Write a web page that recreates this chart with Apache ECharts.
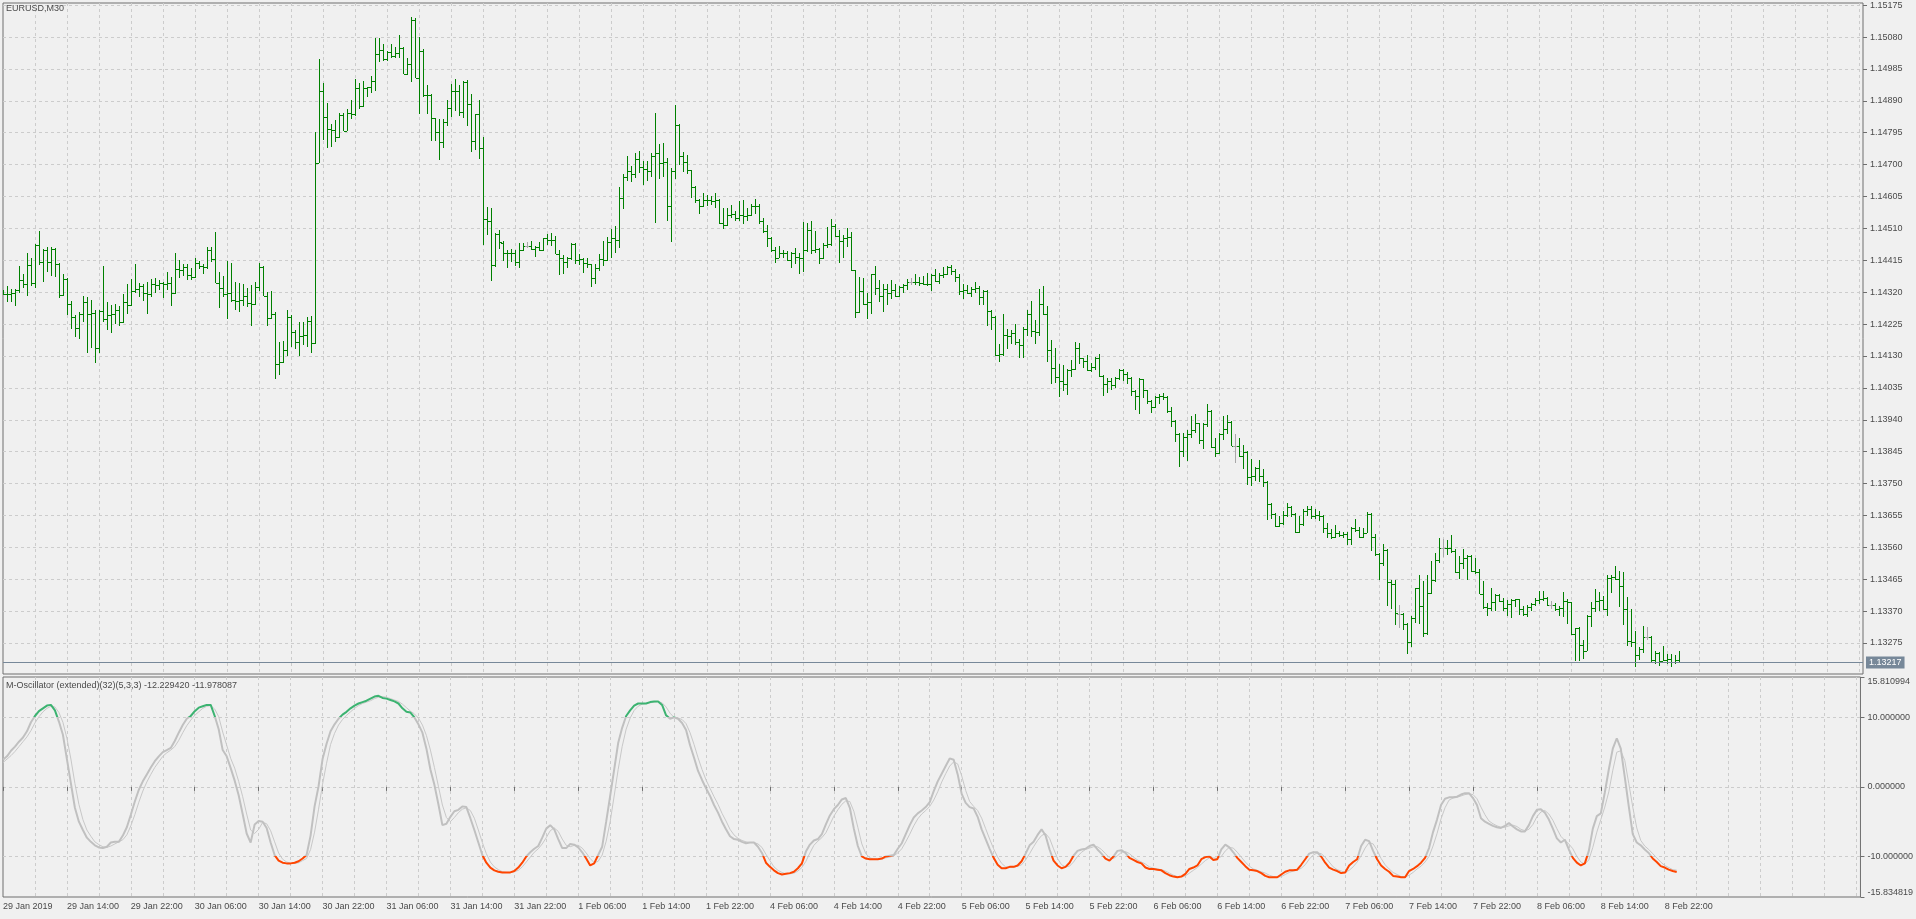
<!DOCTYPE html>
<html><head><meta charset="utf-8">
<script src="https://cdn.jsdelivr.net/npm/echarts@6/dist/echarts.min.js"></script>
<style>html,body{margin:0;padding:0;background:#F0F0F0;}#c{width:1916px;height:919px;}</style>
</head><body><div id="c"></div>
<script>
const symbolName = 'EURUSD,M30';
const oscName = 'M-Oscillator (extended)(32)(5,3,3)';
const tickLabels = ['29 Jan 2019','29 Jan 14:00','29 Jan 22:00','30 Jan 06:00','30 Jan 14:00','30 Jan 22:00','31 Jan 06:00','31 Jan 14:00','31 Jan 22:00','1 Feb 06:00','1 Feb 14:00','1 Feb 22:00','4 Feb 06:00','4 Feb 14:00','4 Feb 22:00','5 Feb 06:00','5 Feb 14:00','5 Feb 22:00','6 Feb 06:00','6 Feb 14:00','6 Feb 22:00','7 Feb 06:00','7 Feb 14:00','7 Feb 22:00','8 Feb 06:00','8 Feb 14:00','8 Feb 22:00'];
const priceTicks = [1.13275,1.13370,1.13465,1.13560,1.13655,1.13750,1.13845,1.13940,1.14035,1.14130,1.14225,1.14320,1.14415,1.14510,1.14605,1.14700,1.14795,1.14890,1.14985,1.15080,1.15175];
const oscTicks = [-15.834819,-10,0,10,15.810994];

const opens = [
1.14318,1.14316,1.14314,1.14319,1.14328,1.14357,1.14344,1.14400,1.14347,1.14462,
1.14410,1.14446,1.14410,1.14449,1.14405,1.14311,1.14359,1.14286,1.14245,1.14212,
1.14256,1.14291,1.14256,1.14258,1.14155,1.14263,1.14239,1.14251,1.14256,1.14268,
1.14232,1.14291,1.14281,1.14323,1.14331,1.14338,1.14318,1.14316,1.14344,1.14341,
1.14346,1.14344,1.14347,1.14318,1.14390,1.14387,1.14395,1.14370,1.14365,1.14407,
1.14398,1.14395,1.14446,1.14420,1.14347,1.14334,1.14314,1.14319,1.14296,1.14294,
1.14298,1.14308,1.14288,1.14286,1.14336,1.14395,1.14308,1.14242,1.14256,1.14106,
1.14113,1.14148,1.14247,1.14202,1.14172,1.14189,1.14192,1.14235,1.14169,1.14704,
1.14920,1.14843,1.14806,1.14804,1.14781,1.14847,1.14801,1.14855,1.14850,1.14928,
1.14874,1.14928,1.14930,1.14949,1.15029,1.15041,1.15014,1.15036,1.15024,1.15034,
1.15048,1.14971,1.15001,1.15130,1.14957,1.15040,1.14908,1.14906,1.14839,1.14796,
1.14766,1.14826,1.14868,1.14920,1.14918,1.14857,1.14946,1.14880,1.14769,1.14850,
1.14749,1.14539,1.14532,1.14400,1.14494,1.14467,1.14436,1.14438,1.14436,1.14411,
1.14445,1.14458,1.14458,1.14448,1.14456,1.14445,1.14480,1.14477,1.14475,1.14435,
1.14423,1.14411,1.14423,1.14465,1.14415,1.14418,1.14408,1.14403,1.14361,1.14391,
1.14418,1.14416,1.14470,1.14482,1.14477,1.14601,1.14663,1.14682,1.14671,1.14718,
1.14692,1.14688,1.14682,1.14725,1.14735,1.14705,1.14707,1.14576,1.14682,1.14819,
1.14725,1.14707,1.14684,1.14633,1.14596,1.14576,1.14596,1.14594,1.14591,1.14596,
1.14527,1.14520,1.14550,1.14552,1.14540,1.14550,1.14548,1.14550,1.14578,1.14576,
1.14532,1.14502,1.14482,1.14445,1.14423,1.14438,1.14436,1.14415,1.14438,1.14425,
1.14423,1.14445,1.14504,1.14445,1.14448,1.14421,1.14461,1.14463,1.14517,1.14487,
1.14472,1.14482,1.14484,1.14385,1.14262,1.14323,1.14286,1.14291,1.14373,1.14333,
1.14308,1.14331,1.14318,1.14328,1.14308,1.14335,1.14341,1.14351,1.14351,1.14349,
1.14348,1.14343,1.14345,1.14371,1.14353,1.14372,1.14375,1.14395,1.14383,1.14365,
1.14325,1.14327,1.14317,1.14331,1.14333,1.14305,1.14323,1.14264,1.14246,1.14133,
1.14136,1.14194,1.14191,1.14198,1.14171,1.14162,1.14211,1.14254,1.14203,1.14201,
1.14285,1.14256,1.14149,1.14095,1.14066,1.14055,1.14048,1.14089,1.14090,1.14155,
1.14124,1.14114,1.14089,1.14097,1.14125,1.14069,1.14046,1.14056,1.14043,1.14063,
1.14089,1.14077,1.14063,1.14026,1.14010,1.14061,1.14028,1.13996,1.13978,1.14008,
1.14010,1.14008,1.13967,1.13937,1.13899,1.13848,1.13889,1.13899,1.13911,1.13929,
1.13879,1.13927,1.13967,1.13860,1.13842,1.13897,1.13914,1.13934,1.13863,1.13863,
1.13832,1.13845,1.13771,1.13772,1.13795,1.13773,1.13756,1.13689,1.13660,1.13625,
1.13632,1.13657,1.13681,1.13660,1.13607,1.13629,1.13669,1.13673,1.13652,1.13657,
1.13654,1.13617,1.13604,1.13592,1.13604,1.13597,1.13599,1.13584,1.13617,1.13612,
1.13592,1.13604,1.13660,1.13590,1.13541,1.13513,1.13553,1.13456,1.13452,1.13361,
1.13361,1.13331,1.13277,1.13351,1.13438,1.13386,1.13304,1.13425,1.13462,1.13521,
1.13559,1.13559,1.13558,1.13549,1.13488,1.13514,1.13529,1.13534,1.13490,1.13488,
1.13422,1.13381,1.13379,1.13396,1.13418,1.13399,1.13379,1.13391,1.13403,1.13405,
1.13376,1.13361,1.13383,1.13391,1.13403,1.13405,1.13409,1.13389,1.13389,1.13376,
1.13379,1.13399,1.13396,1.13302,1.13321,1.13270,1.13252,1.13356,1.13379,1.13401,
1.13403,1.13376,1.13470,1.13472,1.13465,1.13445,1.13376,1.13280,1.13277,1.13240,
1.13257,1.13294,1.13294,1.13224,1.13244,1.13222,1.13224,1.13227,1.13219,1.13224];
const highs = [
1.14328,1.14338,1.14331,1.14330,1.14397,1.14375,1.14437,1.14422,1.14464,1.14502,
1.14449,1.14454,1.14456,1.14451,1.14407,1.14373,1.14362,1.14294,1.14251,1.14261,
1.14309,1.14306,1.14298,1.14266,1.14266,1.14397,1.14290,1.14281,1.14286,1.14278,
1.14314,1.14344,1.14360,1.14403,1.14347,1.14344,1.14349,1.14360,1.14362,1.14357,
1.14350,1.14380,1.14365,1.14438,1.14417,1.14405,1.14405,1.14392,1.14422,1.14413,
1.14405,1.14454,1.14454,1.14498,1.14380,1.14367,1.14413,1.14407,1.14350,1.14347,
1.14343,1.14334,1.14341,1.14350,1.14407,1.14397,1.14321,1.14323,1.14261,1.14172,
1.14174,1.14266,1.14251,1.14207,1.14232,1.14232,1.14245,1.14249,1.14798,1.15014,
1.14944,1.14885,1.14821,1.14833,1.14855,1.14855,1.14865,1.14893,1.14954,1.14942,
1.14949,1.14932,1.14964,1.15076,1.15078,1.15058,1.15040,1.15058,1.15050,1.15086,
1.15050,1.15019,1.15140,1.15138,1.15080,1.15043,1.14937,1.14910,1.14840,1.14836,
1.14836,1.14893,1.14940,1.14954,1.14937,1.14949,1.14951,1.14910,1.14852,1.14892,
1.14783,1.14575,1.14571,1.14496,1.14504,1.14472,1.14445,1.14448,1.14445,1.14467,
1.14467,1.14470,1.14474,1.14458,1.14470,1.14482,1.14492,1.14497,1.14487,1.14445,
1.14431,1.14425,1.14467,1.14467,1.14433,1.14423,1.14421,1.14405,1.14403,1.14435,
1.14474,1.14484,1.14507,1.14517,1.14633,1.14671,1.14725,1.14695,1.14735,1.14742,
1.14710,1.14712,1.14735,1.14854,1.14760,1.14765,1.14720,1.14690,1.14878,1.14821,
1.14738,1.14730,1.14685,1.14636,1.14599,1.14616,1.14611,1.14606,1.14616,1.14598,
1.14572,1.14572,1.14579,1.14562,1.14593,1.14596,1.14572,1.14583,1.14599,1.14583,
1.14542,1.14520,1.14484,1.14455,1.14458,1.14445,1.14443,1.14441,1.14453,1.14438,
1.14530,1.14527,1.14532,1.14502,1.14453,1.14467,1.14514,1.14537,1.14522,1.14504,
1.14490,1.14510,1.14500,1.14387,1.14365,1.14363,1.14318,1.14375,1.14398,1.14355,
1.14345,1.14345,1.14355,1.14343,1.14338,1.14345,1.14358,1.14361,1.14373,1.14365,
1.14368,1.14378,1.14373,1.14388,1.14378,1.14395,1.14398,1.14401,1.14388,1.14373,
1.14343,1.14341,1.14336,1.14351,1.14338,1.14328,1.14326,1.14267,1.14250,1.14165,
1.14254,1.14211,1.14208,1.14226,1.14181,1.14216,1.14267,1.14293,1.14238,1.14330,
1.14337,1.14280,1.14178,1.14155,1.14105,1.14102,1.14092,1.14117,1.14171,1.14168,
1.14125,1.14132,1.14109,1.14127,1.14135,1.14072,1.14063,1.14063,1.14066,1.14092,
1.14092,1.14082,1.14066,1.14028,1.14063,1.14062,1.14030,1.13998,1.14010,1.14018,
1.14020,1.14010,1.13978,1.13939,1.13901,1.13901,1.13909,1.13951,1.13957,1.13931,
1.13931,1.13986,1.13969,1.13887,1.13901,1.13951,1.13954,1.13936,1.13899,1.13887,
1.13865,1.13848,1.13822,1.13800,1.13820,1.13792,1.13759,1.13691,1.13662,1.13654,
1.13667,1.13693,1.13683,1.13662,1.13654,1.13673,1.13683,1.13683,1.13673,1.13667,
1.13656,1.13632,1.13614,1.13627,1.13610,1.13607,1.13607,1.13620,1.13644,1.13622,
1.13617,1.13664,1.13662,1.13600,1.13543,1.13571,1.13555,1.13462,1.13464,1.13389,
1.13363,1.13336,1.13356,1.13440,1.13478,1.13460,1.13478,1.13519,1.13544,1.13587,
1.13584,1.13581,1.13597,1.13554,1.13534,1.13554,1.13537,1.13537,1.13529,1.13495,
1.13460,1.13393,1.13438,1.13420,1.13420,1.13409,1.13403,1.13406,1.13406,1.13406,
1.13386,1.13389,1.13393,1.13409,1.13430,1.13430,1.13411,1.13399,1.13393,1.13386,
1.13428,1.13406,1.13398,1.13321,1.13323,1.13284,1.13359,1.13396,1.13435,1.13428,
1.13415,1.13478,1.13478,1.13505,1.13490,1.13488,1.13413,1.13376,1.13312,1.13262,
1.13326,1.13323,1.13296,1.13250,1.13247,1.13267,1.13242,1.13242,1.13240,1.13250];
const lows = [
1.14311,1.14291,1.14291,1.14279,1.14318,1.14334,1.14308,1.14338,1.14334,1.14400,
1.14350,1.14380,1.14367,1.14365,1.14303,1.14308,1.14253,1.14209,1.14187,1.14182,
1.14232,1.14140,1.14154,1.14110,1.14138,1.14232,1.14207,1.14199,1.14225,1.14219,
1.14227,1.14254,1.14278,1.14318,1.14306,1.14294,1.14254,1.14306,1.14318,1.14328,
1.14303,1.14328,1.14278,1.14316,1.14363,1.14367,1.14357,1.14357,1.14363,1.14390,
1.14373,1.14390,1.14410,1.14347,1.14274,1.14306,1.14239,1.14291,1.14268,1.14261,
1.14278,1.14276,1.14219,1.14281,1.14323,1.14308,1.14219,1.14240,1.14060,1.14073,
1.14108,1.14130,1.14157,1.14152,1.14130,1.14162,1.14157,1.14138,1.14167,1.14704,
1.14773,1.14751,1.14753,1.14766,1.14779,1.14801,1.14799,1.14836,1.14845,1.14865,
1.14872,1.14900,1.14912,1.14918,1.15007,1.15009,1.15009,1.15019,1.15017,1.15019,
1.14969,1.14967,1.14947,1.14957,1.14850,1.14900,1.14852,1.14771,1.14769,1.14714,
1.14751,1.14816,1.14842,1.14860,1.14845,1.14839,1.14816,1.14737,1.14744,1.14717,
1.14460,1.14489,1.14353,1.14395,1.14449,1.14413,1.14391,1.14411,1.14398,1.14393,
1.14443,1.14453,1.14445,1.14425,1.14443,1.14443,1.14461,1.14458,1.14433,1.14371,
1.14373,1.14393,1.14415,1.14403,1.14401,1.14378,1.14393,1.14335,1.14343,1.14383,
1.14398,1.14413,1.14421,1.14438,1.14451,1.14567,1.14651,1.14649,1.14659,1.14675,
1.14639,1.14651,1.14663,1.14527,1.14656,1.14663,1.14532,1.14470,1.14656,1.14698,
1.14678,1.14671,1.14601,1.14586,1.14552,1.14574,1.14576,1.14581,1.14570,1.14522,
1.14507,1.14517,1.14540,1.14532,1.14532,1.14524,1.14532,1.14548,1.14554,1.14524,
1.14497,1.14455,1.14441,1.14408,1.14421,1.14421,1.14413,1.14391,1.14405,1.14375,
1.14381,1.14441,1.14435,1.14438,1.14403,1.14419,1.14453,1.14458,1.14484,1.14408,
1.14423,1.14455,1.14383,1.14244,1.14259,1.14283,1.14239,1.14254,1.14313,1.14291,
1.14262,1.14283,1.14301,1.14305,1.14305,1.14318,1.14328,1.14341,1.14341,1.14338,
1.14341,1.14338,1.14323,1.14351,1.14343,1.14361,1.14371,1.14371,1.14351,1.14313,
1.14301,1.14315,1.14305,1.14318,1.14283,1.14283,1.14220,1.14207,1.14131,1.14111,
1.14131,1.14152,1.14166,1.14162,1.14125,1.14125,1.14191,1.14188,1.14166,1.14191,
1.14251,1.14112,1.14046,1.14050,1.14008,1.14026,1.14013,1.14066,1.14089,1.14107,
1.14095,1.14085,1.14082,1.14087,1.14068,1.14010,1.14020,1.14028,1.14036,1.14058,
1.14056,1.14046,1.14010,1.13970,1.13957,1.14006,1.13986,1.13961,1.13976,1.13986,
1.14000,1.13959,1.13919,1.13874,1.13798,1.13828,1.13818,1.13887,1.13901,1.13869,
1.13852,1.13919,1.13855,1.13828,1.13838,1.13881,1.13899,1.13862,1.13812,1.13830,
1.13792,1.13746,1.13743,1.13759,1.13756,1.13741,1.13640,1.13644,1.13620,1.13622,
1.13627,1.13650,1.13650,1.13604,1.13604,1.13624,1.13654,1.13644,1.13644,1.13637,
1.13602,1.13587,1.13584,1.13587,1.13590,1.13587,1.13568,1.13568,1.13607,1.13587,
1.13587,1.13602,1.13548,1.13535,1.13462,1.13505,1.13384,1.13375,1.13330,1.13321,
1.13314,1.13242,1.13262,1.13336,1.13331,1.13294,1.13300,1.13422,1.13458,1.13514,
1.13531,1.13537,1.13544,1.13485,1.13465,1.13495,1.13462,1.13488,1.13482,1.13420,
1.13376,1.13356,1.13371,1.13369,1.13396,1.13369,1.13356,1.13349,1.13383,1.13359,
1.13356,1.13353,1.13369,1.13386,1.13391,1.13399,1.13386,1.13376,1.13371,1.13356,
1.13353,1.13331,1.13300,1.13222,1.13222,1.13227,1.13250,1.13323,1.13366,1.13369,
1.13373,1.13356,1.13425,1.13462,1.13383,1.13329,1.13267,1.13264,1.13205,1.13224,
1.13244,1.13284,1.13217,1.13213,1.13208,1.13220,1.13211,1.13205,1.13213,1.13215];
const closes = [
1.14316,1.14314,1.14318,1.14328,1.14357,1.14344,1.14400,1.14347,1.14462,1.14410,
1.14446,1.14410,1.14449,1.14405,1.14311,1.14359,1.14286,1.14245,1.14212,1.14256,
1.14291,1.14256,1.14258,1.14155,1.14263,1.14239,1.14251,1.14256,1.14268,1.14232,
1.14291,1.14281,1.14323,1.14331,1.14338,1.14318,1.14316,1.14344,1.14341,1.14346,
1.14344,1.14347,1.14318,1.14390,1.14387,1.14395,1.14370,1.14365,1.14407,1.14398,
1.14395,1.14446,1.14420,1.14347,1.14334,1.14314,1.14319,1.14296,1.14294,1.14298,
1.14308,1.14288,1.14286,1.14336,1.14395,1.14308,1.14242,1.14256,1.14106,1.14113,
1.14148,1.14247,1.14202,1.14172,1.14189,1.14192,1.14235,1.14169,1.14704,1.14920,
1.14843,1.14806,1.14804,1.14781,1.14847,1.14801,1.14855,1.14850,1.14928,1.14874,
1.14928,1.14930,1.14949,1.15029,1.15041,1.15014,1.15036,1.15024,1.15034,1.15048,
1.14971,1.15001,1.15130,1.14957,1.15040,1.14908,1.14906,1.14839,1.14796,1.14766,
1.14826,1.14868,1.14920,1.14918,1.14857,1.14946,1.14880,1.14769,1.14850,1.14749,
1.14539,1.14532,1.14400,1.14494,1.14469,1.14436,1.14438,1.14436,1.14411,1.14445,
1.14458,1.14458,1.14448,1.14456,1.14445,1.14480,1.14477,1.14475,1.14435,1.14423,
1.14411,1.14423,1.14465,1.14415,1.14418,1.14408,1.14403,1.14361,1.14391,1.14418,
1.14416,1.14470,1.14482,1.14477,1.14601,1.14663,1.14682,1.14671,1.14718,1.14692,
1.14688,1.14682,1.14725,1.14735,1.14705,1.14707,1.14576,1.14682,1.14819,1.14725,
1.14707,1.14684,1.14633,1.14596,1.14576,1.14596,1.14594,1.14591,1.14596,1.14527,
1.14520,1.14550,1.14552,1.14540,1.14550,1.14548,1.14550,1.14578,1.14576,1.14532,
1.14502,1.14482,1.14445,1.14423,1.14438,1.14436,1.14415,1.14438,1.14425,1.14423,
1.14445,1.14504,1.14445,1.14448,1.14421,1.14461,1.14463,1.14517,1.14487,1.14472,
1.14482,1.14484,1.14385,1.14262,1.14323,1.14286,1.14291,1.14373,1.14333,1.14308,
1.14331,1.14318,1.14328,1.14308,1.14335,1.14341,1.14351,1.14351,1.14349,1.14348,
1.14343,1.14345,1.14371,1.14353,1.14372,1.14375,1.14395,1.14383,1.14365,1.14325,
1.14327,1.14317,1.14331,1.14333,1.14305,1.14323,1.14264,1.14246,1.14133,1.14136,
1.14194,1.14191,1.14198,1.14171,1.14162,1.14211,1.14254,1.14203,1.14201,1.14285,
1.14256,1.14149,1.14095,1.14066,1.14055,1.14048,1.14089,1.14090,1.14155,1.14124,
1.14114,1.14089,1.14097,1.14125,1.14069,1.14046,1.14056,1.14043,1.14063,1.14089,
1.14077,1.14063,1.14026,1.14010,1.14061,1.14028,1.13996,1.13978,1.14008,1.14010,
1.14008,1.13967,1.13937,1.13899,1.13848,1.13889,1.13899,1.13911,1.13929,1.13879,
1.13927,1.13967,1.13860,1.13842,1.13897,1.13914,1.13934,1.13863,1.13863,1.13832,
1.13845,1.13771,1.13772,1.13795,1.13773,1.13756,1.13689,1.13660,1.13625,1.13632,
1.13657,1.13681,1.13660,1.13607,1.13629,1.13669,1.13673,1.13652,1.13657,1.13654,
1.13617,1.13604,1.13592,1.13604,1.13597,1.13599,1.13584,1.13617,1.13612,1.13592,
1.13604,1.13660,1.13590,1.13541,1.13513,1.13553,1.13456,1.13452,1.13364,1.13361,
1.13331,1.13277,1.13351,1.13438,1.13386,1.13304,1.13425,1.13462,1.13521,1.13559,
1.13559,1.13558,1.13549,1.13488,1.13514,1.13529,1.13534,1.13490,1.13488,1.13422,
1.13381,1.13379,1.13396,1.13418,1.13399,1.13379,1.13391,1.13403,1.13405,1.13376,
1.13361,1.13383,1.13391,1.13403,1.13405,1.13409,1.13389,1.13389,1.13376,1.13379,
1.13399,1.13396,1.13302,1.13321,1.13270,1.13252,1.13356,1.13379,1.13401,1.13403,
1.13376,1.13470,1.13472,1.13465,1.13445,1.13376,1.13280,1.13277,1.13240,1.13257,
1.13294,1.13294,1.13224,1.13244,1.13222,1.13224,1.13227,1.13219,1.13224,1.13217];

const oscMain = [
3.9,4.4,5.2,5.8,6.5,7.1,8.0,9.3,10.2,10.9,
11.3,11.7,11.8,11.0,9.4,7.5,4.0,0.5,-3.0,-5.0,
-6.2,-7.3,-7.9,-8.4,-8.7,-8.8,-8.6,-8.0,-7.9,-7.9,
-7.0,-5.8,-4.0,-2.1,-0.4,0.8,1.8,2.8,3.7,4.4,
5.0,5.3,5.6,6.6,7.8,8.9,9.8,10.2,10.9,11.4,
11.6,11.8,11.8,10.2,8.3,5.3,4.4,2.7,0.9,-1.2,
-3.9,-6.7,-8.0,-5.4,-4.9,-5.0,-5.9,-8.0,-9.8,-10.6,
-10.9,-11.0,-11.0,-10.9,-10.7,-10.3,-9.8,-7.0,-2.8,0.1,
4.0,6.2,8.0,9.0,9.8,10.4,10.8,11.3,11.7,12.0,
12.2,12.4,12.7,13.0,13.1,12.8,12.7,12.5,12.3,12.0,
11.3,10.8,10.7,10.0,9.0,7.8,5.5,2.5,0.3,-2.5,
-5.5,-5.3,-4.3,-3.5,-3.3,-2.8,-2.9,-4.5,-6.2,-8.0,
-9.8,-10.9,-11.6,-12.0,-12.2,-12.3,-12.3,-12.3,-12.1,-11.6,
-10.9,-10.0,-9.4,-8.9,-8.5,-7.3,-6.0,-5.5,-6.1,-7.5,
-8.8,-8.8,-8.2,-8.3,-8.7,-9.4,-10.3,-11.3,-11.0,-9.8,
-8.6,-5.0,-1.3,2.5,6.3,8.5,10.2,11.0,11.7,12.0,
12.0,12.0,12.2,12.3,12.3,11.8,10.3,9.8,10.0,9.8,
9.2,8.2,6.0,4.2,2.3,1.0,-0.2,-1.3,-2.6,-3.7,
-5.0,-6.1,-7.1,-7.5,-7.6,-7.9,-8.1,-8.0,-8.0,-8.6,
-9.5,-10.9,-11.5,-12.0,-12.4,-12.6,-12.5,-12.4,-12.2,-11.7,
-11.0,-9.3,-8.3,-7.7,-7.5,-6.8,-5.4,-4.1,-3.2,-2.6,
-1.8,-1.6,-3.0,-6.0,-8.5,-10.0,-10.3,-10.4,-10.4,-10.4,
-10.3,-10.0,-9.9,-9.8,-8.9,-8.1,-6.8,-5.5,-4.4,-3.8,
-3.4,-2.9,-2.2,-0.6,0.8,1.9,3.0,4.1,3.9,1.8,
-1.0,-2.3,-2.9,-3.1,-4.3,-6.1,-7.5,-8.9,-10.2,-11.2,
-11.7,-11.7,-11.5,-11.5,-11.3,-10.7,-9.6,-8.4,-7.9,-6.9,
-6.1,-7.0,-9.0,-10.6,-11.3,-11.7,-11.5,-10.9,-9.9,-9.2,
-9.0,-8.9,-8.5,-8.3,-9.0,-9.6,-10.3,-10.6,-10.0,-9.2,
-9.1,-9.5,-10.2,-10.5,-10.8,-11.0,-11.6,-11.8,-11.8,-11.9,
-12.0,-12.4,-12.7,-12.9,-13.0,-12.9,-12.5,-11.8,-11.6,-11.3,
-10.4,-10.1,-10.0,-10.5,-10.4,-9.0,-8.3,-8.7,-9.4,-10.2,
-10.8,-11.4,-11.9,-12.0,-12.1,-12.4,-12.8,-13.0,-13.0,-13.0,
-12.6,-12.2,-12.0,-12.0,-11.9,-11.2,-10.4,-9.6,-9.4,-9.4,
-10.0,-10.9,-11.6,-11.9,-12.1,-12.4,-12.3,-11.3,-10.8,-10.4,
-8.5,-7.6,-7.8,-9.2,-10.4,-11.3,-11.8,-12.2,-12.8,-12.9,
-13.0,-13.0,-12.1,-11.8,-11.4,-10.9,-10.2,-8.8,-6.5,-4.7,
-2.6,-1.7,-1.5,-1.5,-1.4,-1.1,-0.9,-0.9,-1.6,-2.6,
-4.5,-5.0,-5.3,-5.6,-5.8,-5.9,-5.6,-5.2,-5.7,-6.1,
-6.4,-6.4,-5.5,-4.2,-3.3,-3.2,-3.7,-4.7,-6.0,-7.4,
-8.0,-7.6,-9.0,-10.2,-10.9,-11.3,-11.0,-9.2,-6.0,-4.2,
-3.8,-0.8,2.5,5.5,7.0,5.5,1.4,-2.8,-6.8,-8.0,
-8.4,-9.0,-9.5,-10.3,-10.8,-11.4,-11.6,-11.9,-12.1,-12.22942];
const oscSignal = [
3.5,4.0,4.5,5.1,5.8,6.5,7.2,8.1,9.2,10.1,
10.8,11.3,11.6,11.5,10.7,9.3,7.0,4.0,0.5,-2.5,
-4.7,-6.2,-7.1,-7.9,-8.3,-8.6,-8.7,-8.5,-8.2,-7.9,
-7.6,-6.9,-5.6,-4.0,-2.2,-0.6,0.7,1.8,2.8,3.6,
4.4,4.9,5.3,5.8,6.7,7.8,8.8,9.6,10.3,10.8,
11.3,11.6,11.7,11.2,10.1,7.9,6.0,4.1,2.7,0.8,
-1.4,-3.9,-6.2,-6.7,-6.1,-5.1,-5.3,-6.3,-7.9,-9.5,
-10.4,-10.8,-11.0,-11.0,-10.9,-10.6,-10.3,-9.0,-6.5,-3.2,
0.4,3.4,6.1,7.7,8.9,9.7,10.3,10.8,11.3,11.7,
12.0,12.2,12.4,12.7,12.9,13.0,12.9,12.7,12.5,12.3,
11.9,11.4,10.9,10.5,9.9,8.9,7.4,5.3,2.8,0.1,
-2.6,-4.4,-5.0,-4.4,-3.7,-3.2,-3.0,-3.4,-4.5,-6.2,
-8.0,-9.6,-10.8,-11.5,-11.9,-12.2,-12.3,-12.3,-12.2,-12.0,
-11.5,-10.8,-10.1,-9.4,-8.9,-8.2,-7.3,-6.3,-5.9,-6.4,
-7.5,-8.4,-8.6,-8.4,-8.4,-8.8,-9.5,-10.3,-10.9,-10.7,
-9.8,-7.8,-5.0,-1.3,2.5,5.8,8.3,9.9,11.0,11.6,
11.9,12.0,12.1,12.2,12.3,12.1,11.5,10.6,10.0,9.9,
9.7,9.1,7.8,6.1,4.2,2.5,1.0,-0.2,-1.4,-2.5,
-3.8,-4.9,-6.1,-6.9,-7.4,-7.7,-7.9,-8.0,-8.0,-8.2,
-8.7,-9.7,-10.6,-11.5,-12.0,-12.3,-12.5,-12.5,-12.4,-12.1,
-11.6,-10.7,-9.5,-8.4,-7.8,-7.3,-6.6,-5.4,-4.2,-3.3,
-2.5,-2.0,-2.1,-3.5,-5.8,-8.2,-9.6,-10.2,-10.4,-10.4,
-10.4,-10.2,-10.1,-9.9,-9.5,-8.9,-7.9,-6.8,-5.6,-4.6,
-3.9,-3.4,-2.8,-1.9,-0.7,0.7,1.9,3.0,3.6,3.3,
1.6,-0.5,-2.1,-2.8,-3.4,-4.5,-6.0,-7.5,-8.9,-10.1,
-11.0,-11.5,-11.6,-11.6,-11.4,-11.2,-10.5,-9.6,-8.6,-7.7,
-7.0,-6.7,-7.4,-8.9,-10.3,-11.2,-11.5,-11.4,-10.8,-10.0,
-9.4,-9.0,-8.8,-8.6,-8.6,-9.0,-9.6,-10.2,-10.3,-9.9,
-9.4,-9.3,-9.6,-10.1,-10.5,-10.8,-11.1,-11.5,-11.7,-11.8,
-11.9,-12.1,-12.4,-12.7,-12.9,-12.9,-12.8,-12.4,-12.0,-11.6,
-11.1,-10.6,-10.2,-10.2,-10.3,-10.0,-9.2,-8.7,-8.8,-9.4,
-10.1,-10.8,-11.4,-11.8,-12.0,-12.2,-12.4,-12.7,-12.9,-13.0,
-12.9,-12.6,-12.3,-12.1,-12.0,-11.7,-11.2,-10.4,-9.8,-9.5,
-9.6,-10.1,-10.8,-11.5,-11.9,-12.1,-12.3,-12.0,-11.5,-10.8,
-9.9,-8.8,-8.0,-8.2,-9.1,-10.3,-11.2,-11.8,-12.3,-12.6,
-12.9,-13.0,-12.7,-12.3,-11.8,-11.4,-10.8,-10.0,-8.5,-6.7,
-4.6,-3.0,-1.9,-1.6,-1.5,-1.3,-1.1,-1.0,-1.1,-1.7,
-2.9,-4.0,-4.9,-5.3,-5.6,-5.8,-5.8,-5.6,-5.5,-5.7,
-6.1,-6.3,-6.1,-5.4,-4.3,-3.6,-3.4,-3.9,-4.8,-6.0,
-7.1,-7.7,-8.2,-8.9,-10.0,-10.8,-11.1,-10.5,-8.7,-6.5,
-4.7,-2.9,-0.7,2.4,5.0,5.2,3.8,0.5,-2.9,-5.9,
-7.7,-8.5,-9.0,-9.6,-10.2,-10.8,-11.3,-11.6,-11.9,-11.978087];

// ---------- layout / style ----------
const FONT = 'Liberation Sans';
const TXT = '#4A4A4A';
const FRAME = '#6E6E6E';
const GRIDC = '#CCCCCC';
const BAR_UP = '#008000';
const BAR_DOJI = '#A8A8A8';
const PRICE_LINE = '#778899';
const SLOTS = 466;            // visible bar slots (chart shift space on the right)
const LABEL_STEP = 16;
const GRID_STEP = 8;
const PRICE_MIN = 1.131827, PRICE_MAX = 1.151815;

const cats = Array.from({length: SLOTS}, (_, i) => String(i));
const barData = opens.map((o, i) => [i, o, highs[i], lows[i], closes[i]]);
const lastClose = closes[closes.length - 1];
const lastIdx = oscMain.length - 1;

function renderBar(params, api) {
  const i = api.value(0);
  const o = api.value(1), h = api.value(2), l = api.value(3), c = api.value(4);
  const pH = api.coord([i, h]), pL = api.coord([i, l]);
  const pO = api.coord([i, o]), pC = api.coord([i, c]);
  const x = Math.round(pH[0]);
  const top = Math.round(pH[1]);
  const bot = Math.max(Math.round(pL[1]), top + 1);
  const color = (o === c) ? BAR_DOJI : BAR_UP;
  return {
    type: 'group',
    children: [
      {type: 'rect', shape: {x: x, y: top, width: 1, height: bot - top}, style: {fill: color}},
      {type: 'rect', shape: {x: x - 2, y: Math.round(pO[1]), width: 2, height: 1}, style: {fill: color}},
      {type: 'rect', shape: {x: x + 1, y: Math.round(pC[1]), width: 2, height: 1}, style: {fill: color}}
    ]
  };
}

// current-price line + price tag on the right scale, positioned through the y axis
function renderPriceLine(params, api) {
  const cs = params.coordSys;
  const y = Math.round(api.coord([0, api.value(1)])[1]) + 0.5;
  return {
    type: 'group',
    children: [
      {type: 'line', shape: {x1: cs.x, y1: y, x2: cs.x + cs.width, y2: y},
       style: {stroke: PRICE_LINE, lineWidth: 1}},
      {type: 'text', x: cs.x + cs.width + 3, y: y,
       style: {text: api.value(1).toFixed(5), fill: '#FFFFFF', backgroundColor: PRICE_LINE,
         padding: [2, 3, 1, 3], fontSize: 9, fontFamily: FONT, align: 'left', verticalAlign: 'middle'}}
    ]
  };
}

const labelInterval = (idx) => idx % LABEL_STEP === 0 && idx / LABEL_STEP < tickLabels.length;
const gridInterval = (idx) => idx > 0 && idx % GRID_STEP === 0;
const dashed = {color: GRIDC, width: 1, type: [3, 3]};

const chart = echarts.init(document.getElementById('c'), null, {renderer: 'canvas'});
chart.setOption({
  backgroundColor: '#F0F0F0',
  animation: false,
  textStyle: {fontFamily: FONT},
  title: [
    {text: symbolName, left: 6, top: 4, padding: 0,
     textStyle: {fontSize: 9, fontWeight: 'normal', color: TXT, fontFamily: FONT}},
    {text: oscName + ' ' + oscMain[lastIdx].toFixed(6) + ' ' + oscSignal[lastIdx].toFixed(6),
     left: 6, top: 681, padding: 0,
     textStyle: {fontSize: 9, fontWeight: 'normal', color: TXT, fontFamily: FONT}}
  ],
  grid: [
    {left: 3, top: 3, width: 1860, height: 671, show: true, borderColor: FRAME, borderWidth: 1, backgroundColor: 'transparent'},
    {left: 3, top: 677, width: 1860, height: 220, show: true, borderColor: FRAME, borderWidth: 1, backgroundColor: 'transparent'}
  ],
  xAxis: [
    {type: 'category', gridIndex: 0, data: cats, boundaryGap: false,
     axisLine: {show: false}, axisTick: {show: false}, axisLabel: {show: false},
     splitLine: {show: true, interval: gridInterval, lineStyle: dashed}},
    {type: 'category', gridIndex: 1, data: cats, boundaryGap: false,
     axisLine: {show: false},
     axisTick: {show: true, interval: labelInterval, length: 4, lineStyle: {color: FRAME}},
     axisLabel: {show: true, interval: labelInterval, align: 'left', margin: 5,
       formatter: (v, idx) => tickLabels[Math.round(Number(v) / LABEL_STEP)] || '',
       fontSize: 9, color: TXT, fontFamily: FONT},
     splitLine: {show: true, interval: gridInterval, lineStyle: dashed}}
  ],
  yAxis: [
    {type: 'value', gridIndex: 0, position: 'right', min: PRICE_MIN, max: PRICE_MAX,
     axisLine: {show: false},
     axisTick: {show: true, length: 4, customValues: priceTicks, lineStyle: {color: FRAME}},
     axisLabel: {show: true, customValues: priceTicks, formatter: v => v.toFixed(5),
       fontSize: 9, color: TXT, fontFamily: FONT, margin: 7},
     splitLine: {show: true, lineStyle: dashed}},
    {type: 'value', gridIndex: 1, position: 'right', min: oscTicks[0], max: oscTicks[oscTicks.length - 1],
     axisLine: {show: false},
     axisTick: {show: true, length: 4, customValues: oscTicks, lineStyle: {color: FRAME}},
     axisLabel: {show: true, customValues: oscTicks, formatter: v => v.toFixed(6),
       verticalAlignMinLabel: 'bottom', verticalAlignMaxLabel: 'top',
       fontSize: 9, color: TXT, fontFamily: FONT, margin: 7},
     splitLine: {show: true, showMinLine: false, showMaxLine: false, lineStyle: dashed}}
  ],
  visualMap: [{
    type: 'piecewise', show: false, seriesIndex: 3, dimension: 1,
    pieces: [{gt: 10, color: '#3CB371'}, {lt: -10, color: '#FF4500'}],
    outOfRange: {color: '#C0C0C0'}
  }],
  series: [
    {type: 'custom', name: 'price', xAxisIndex: 0, yAxisIndex: 0, data: barData,
     encode: {x: 0, y: [1, 2, 3, 4]}, renderItem: renderBar, silent: true, clip: true},
    {type: 'custom', name: 'last', xAxisIndex: 0, yAxisIndex: 0, data: [[0, lastClose]],
     encode: {x: 0, y: 1}, renderItem: renderPriceLine, silent: true, clip: false, z: 5},
    {type: 'line', name: 'signal', xAxisIndex: 1, yAxisIndex: 1, data: oscSignal,
     symbol: 'none', silent: true, lineStyle: {color: '#C8C8C8', width: 1}},
    {type: 'line', name: 'main', xAxisIndex: 1, yAxisIndex: 1, data: oscMain,
     symbol: 'none', silent: true, lineStyle: {width: 2}}
  ]
});
</script>
</body></html>
